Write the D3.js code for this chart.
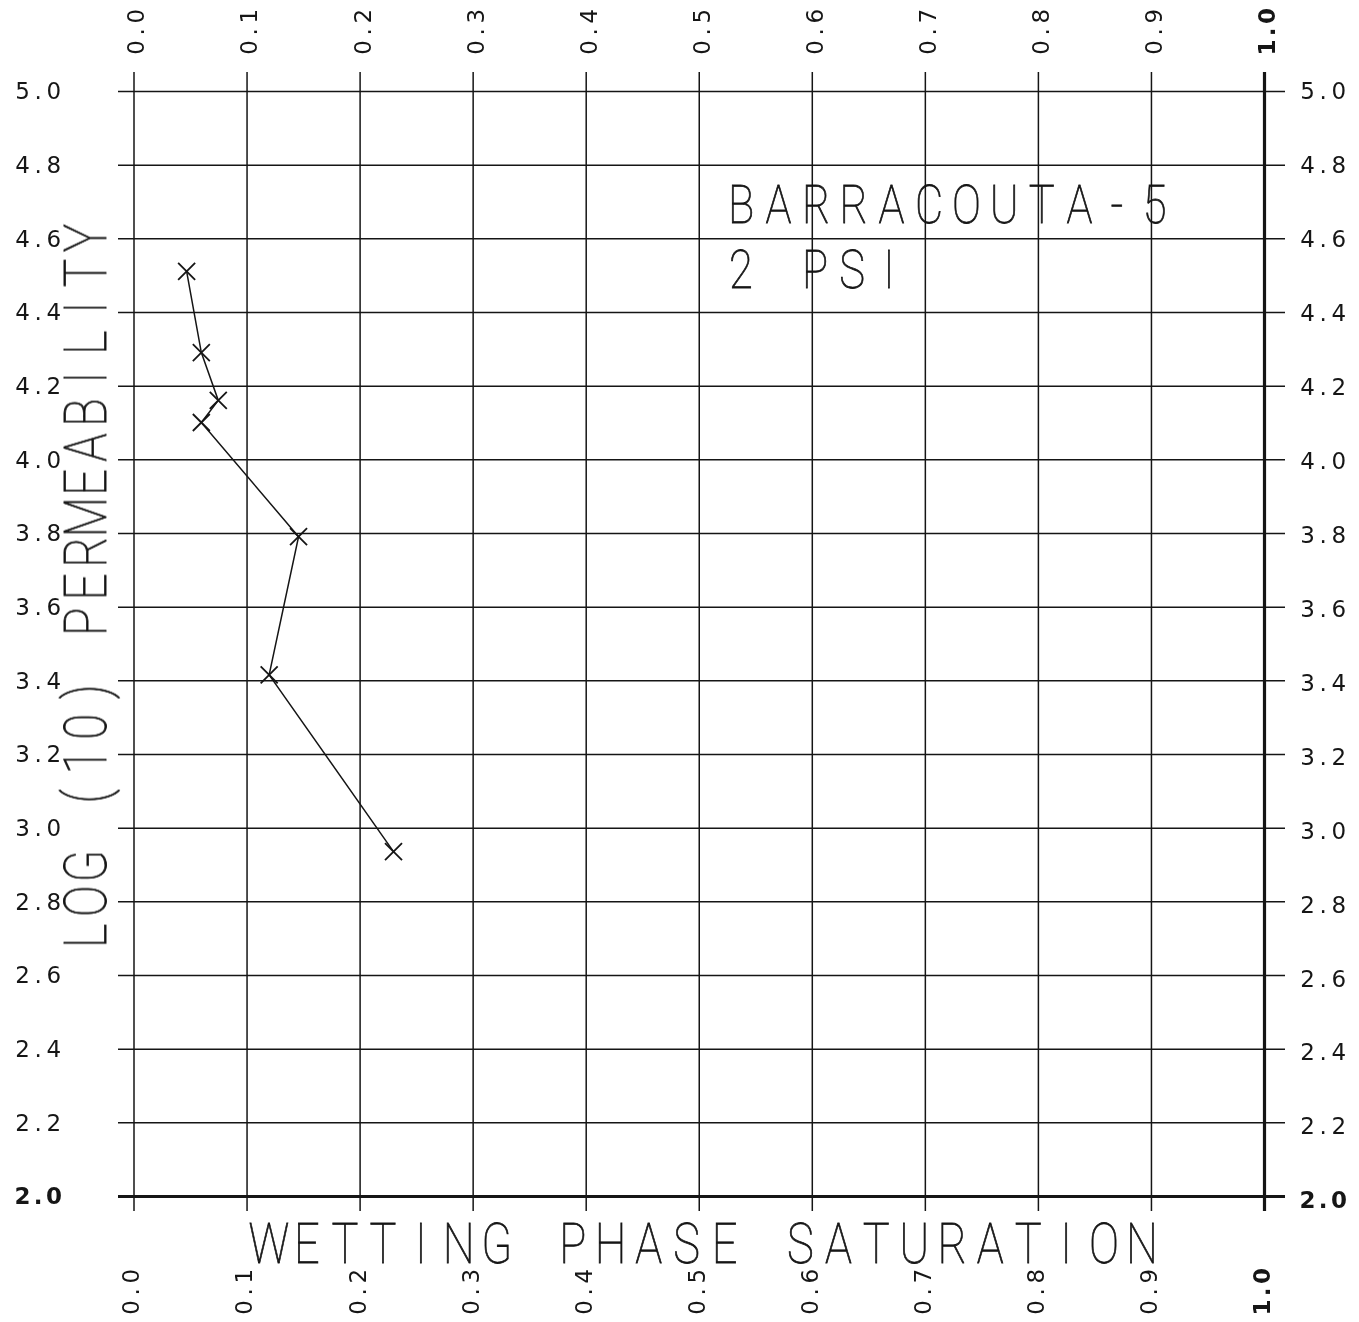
<!DOCTYPE html>
<html>
<head>
<meta charset="utf-8">
<script src="https://cdn.jsdelivr.net/npm/d3@7"></script>
<style>
  html, body { margin: 0; padding: 0; background: #fff; }
  svg { display: block; }
  text { -webkit-font-smoothing: antialiased; }
</style>
</head>
<body>
<svg id="chart" width="1359" height="1322"></svg>
<script>
// ---- data ----
const satTicks = [0.0, 0.1, 0.2, 0.3, 0.4, 0.5, 0.6, 0.7, 0.8, 0.9, 1.0];
const satTickLabels = ["0.0", "0.1", "0.2", "0.3", "0.4", "0.5", "0.6", "0.7", "0.8", "0.9", "1.0"];
const permTicks = [2.0, 2.2, 2.4, 2.6, 2.8, 3.0, 3.2, 3.4, 3.6, 3.8, 4.0, 4.2, 4.4, 4.6, 4.8, 5.0];
const permTickLabels = ["2.0", "2.2", "2.4", "2.6", "2.8", "3.0", "3.2", "3.4", "3.6", "3.8", "4.0", "4.2", "4.4", "4.6", "4.8", "5.0"];
const saturation = [0.047, 0.060, 0.075, 0.060, 0.146, 0.120, 0.230];
const logPermeability = [4.51, 4.29, 4.16, 4.10, 3.79, 3.415, 2.935];
const xTitle = "WETTING PHASE SATURATION";
const yTitle = "LOG (10) PERMEABILITY";
const titleLines = ["BARRACOUTA-5", "2 PSI"];

// ---- layout ----
const svg = d3.select("#chart");
const ink = "#151515";
const x = d3.scaleLinear().domain([0, 1]).range([133.5, 1264]);
const y = d3.scaleLinear().domain([2, 5]).range([1196, 91]);
const gridTop = 72, gridBottom = 1211, gridLeft = 118, gridRight = 1285;

// vertical grid lines via axis
const gx = svg.append("g")
  .attr("transform", `translate(0,${gridBottom})`)
  .call(d3.axisBottom(x).tickValues(satTicks).tickSize(-(gridBottom - gridTop)).tickFormat(""));
gx.select(".domain").remove();
gx.selectAll(".tick line")
  .attr("stroke", ink)
  .attr("stroke-width", d => d === 1.0 ? 3.2 : 1.5);

// horizontal grid lines via axis
const gy = svg.append("g")
  .attr("transform", `translate(${gridLeft},0)`)
  .call(d3.axisLeft(y).tickValues(permTicks).tickSize(-(gridRight - gridLeft)).tickFormat(""));
gy.select(".domain").remove();
gy.selectAll(".tick line")
  .attr("stroke", ink)
  .attr("stroke-width", d => Math.abs(d - 2.0) < 1e-9 ? 3.2 : 1.5);

// fixed-pitch positions for a label string
const pitchXs = (s, p) => Array.from(s).map((c, i) => (i * p).toFixed(2)).join(" ");

// tick labels
const tickFont = "'DejaVu Sans', 'Liberation Sans', sans-serif";
const tickSize = 23;
const tickPitch = 15.7;
const boldLabel = s => s === "2.0" || s === "1.0";
const labels = svg.append("g").attr("opacity", 0.995);

function tickText(sel, labelsArr) {
  return sel
    .attr("text-anchor", "middle")
    .attr("font-family", tickFont)
    .attr("font-size", tickSize)
    .attr("font-weight", (d, i) => boldLabel(labelsArr[i]) ? "bold" : "normal")
    .attr("fill", ink)
    .attr("x", (d, i) => pitchXs(labelsArr[i], tickPitch))
    .text((d, i) => labelsArr[i]);
}

labels.append("g").selectAll("text")
  .data(permTicks)
  .join("text")
  .attr("transform", d => `translate(22.5,${y(d) + 8.4})`)
  .call(tickText, permTickLabels);

labels.append("g").selectAll("text")
  .data(permTicks)
  .join("text")
  .attr("transform", d => `translate(1307.5,${y(d) + 8.4 + (d - 5) * -1.3})`)
  .call(tickText, permTickLabels);

// top and bottom rotated labels
[[47.5, 2.5], [1307.5, -2.5]].forEach(([startY, shift]) => {
  labels.append("g").selectAll("text")
    .data(satTicks)
    .join("text")
    .attr("transform", d => `translate(${x(d) + shift + 8.4},${startY}) rotate(-90)`)
    .call(tickText, satTickLabels);
});

// plotter-style fixed-pitch text helper
const titleFont = "Roboto, 'DejaVu Sans', sans-serif";
const titles = svg.append("g").attr("opacity", 0.995);
function plotterText(str, transform, pitch, size, sx) {
  return titles.append("text")
    .attr("transform", transform + ` scale(${sx},1)`)
    .attr("x", pitchXs(str, pitch / sx))
    .attr("y", 0)
    .attr("text-anchor", "middle")
    .attr("font-family", titleFont)
    .attr("font-weight", 100)
    .attr("font-size", size)
    .attr("fill", ink)
    .attr("stroke", ink)
    .attr("stroke-width", 0.8)
    .attr("xml:space", "preserve")
    .text(str);
}

// x-axis title
plotterText(xTitle, `translate(269,1263)`, 37.96, 55, 0.82);
// y-axis title (rotated)
plotterText(yTitle, `translate(106,936) rotate(-90)`, 34.9, 59, 0.8);
// chart annotation
plotterText(titleLines[0], `translate(741,223)`, 37.6, 53, 0.82);
plotterText(titleLines[1], `translate(741,288)`, 37.0, 53, 0.82);

// data line
const pts = saturation.map((s, i) => [s, logPermeability[i]]);
svg.append("path")
  .datum(pts)
  .attr("fill", "none")
  .attr("stroke", ink)
  .attr("stroke-width", 1.5)
  .attr("d", d3.line().x(d => x(d[0])).y(d => y(d[1])));

// X markers
const m = 8.5;
svg.append("g").selectAll("path")
  .data(pts)
  .join("path")
  .attr("fill", "none")
  .attr("stroke", ink)
  .attr("stroke-width", 1.8)
  .attr("d", d => {
    const cx = x(d[0]), cy = y(d[1]);
    return `M${cx - m},${cy - m}L${cx + m},${cy + m}M${cx - m},${cy + m}L${cx + m},${cy - m}`;
  });
</script>
</body>
</html>
